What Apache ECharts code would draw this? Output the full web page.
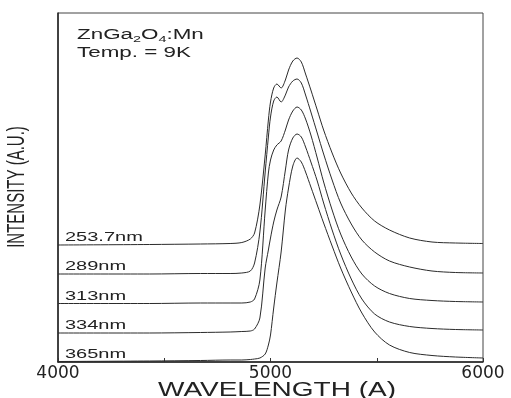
<!DOCTYPE html>
<html>
<head>
<meta charset="utf-8">
<script src="https://cdn.jsdelivr.net/npm/echarts@6/dist/echarts.min.js"></script>
<style>
    html, body { margin: 0; padding: 0; background: #fff; }
    #PlSpectra { width: 511px; height: 398px; }
</style>
</head>
<body>
<div id="PlSpectra"></div>
<script>
// wavelength samples (A)
var wavelength = [4000, 4430, 4670, 4810, 4865, 4905, 4925, 4950, 4975, 4990, 5000, 5015, 5030, 5050, 5070, 5085,
    5105, 5125, 5145, 5165, 5190, 5220, 5250, 5290, 5330, 5380, 5430, 5490, 5560, 5655, 5760, 5870, 6000];
// excitation wavelengths, one curve each (stacked, a.u.)
var excitation = ['253.7nm', '289nm', '313nm', '334nm', '365nm'];
var int2537 = [117, 117.5, 118, 118.5, 119.5, 123, 129, 157, 207, 242, 260, 274, 278, 274, 282, 292,
    301, 304, 300, 288, 272, 252, 232, 209, 189, 169, 154, 141, 132, 124, 120, 119, 118.5];
var int289 = [88, 88, 88.5, 88.5, 89, 91, 99, 130, 190, 225, 245, 261, 265, 260, 267, 275,
    281, 283, 279, 267, 250, 229, 208, 182, 159, 138, 122, 110, 101, 95, 91, 89.5, 89];
var int313 = [58.5, 58.5, 59, 59, 59, 60, 63, 82, 152, 189, 202, 212, 217, 221, 232, 242,
    251, 255, 252, 243, 227, 204, 180, 152, 128, 105, 88, 76, 68.5, 63.5, 61.5, 60.5, 60];
var int334 = [29, 29, 29.5, 30, 30.5, 31, 33, 44, 94, 112, 124, 140, 152, 165, 192, 212,
    224, 228, 225, 215, 200, 181, 159, 132, 108, 83, 63, 48, 40, 35.5, 33.5, 32.5, 32];
var int365 = [0.5, 1, 1.5, 2, 2, 2.5, 3, 4, 8, 17, 27, 54, 79, 110, 152, 174,
    196, 204, 200, 190, 175, 157, 139, 116, 94, 70, 49, 30, 17, 9.5, 6.5, 5, 4];
var xTickLabels = [4000, 5000, 6000];

var allCurves = [int2537, int289, int313, int334, int365];
var textFont = 'Liberation Sans, Arial, sans-serif';
var ink = '#222';

var chart = echarts.init(document.getElementById('PlSpectra'));

var series = allCurves.map(function (vals, k) {
    return {
        name: excitation[k],
        type: 'line',
        showSymbol: false,
        smooth: 0.3,
        silent: true,
        lineStyle: { color: '#2b2b2b', width: 1 },
        data: wavelength.map(function (w, i) { return [w, vals[i]]; })
    };
});

chart.setOption({
    animation: false,
    backgroundColor: '#fff',
    grid: { left: 58, right: 28, top: 13, bottom: 36, show: true, borderColor: '#444', borderWidth: 1 },
    xAxis: {
        type: 'value',
        min: 4000,
        max: 6000,
        interval: 500,
        axisLine: { lineStyle: { color: ink, width: 1.5 } },
        axisTick: { inside: true, length: 4, lineStyle: { color: '#333' } },
        splitLine: { show: false },
        axisLabel: {
            margin: 3,
            color: ink,
            fontFamily: 'DejaVu Sans',
            fontSize: 17,
            formatter: function (v) { return xTickLabels.indexOf(v) >= 0 ? String(v) : ''; }
        }
    },
    yAxis: {
        type: 'value',
        min: 0,
        max: 349,
        axisLine: { show: true, lineStyle: { color: ink, width: 1.5 } },
        axisTick: { show: false },
        axisLabel: { show: false },
        splitLine: { show: false }
    },
    series: series
});

// texts are drawn wide, like the scanned figure
var graphics = [
    {
        type: 'text', x: 277, y: 390, scaleX: 1.4, silent: true,
        style: { text: 'WAVELENGTH (A)', font: '20px ' + textFont, fill: ink, align: 'center', verticalAlign: 'middle' }
    },
    {
        type: 'text', x: 17, y: 187, rotation: Math.PI / 2, scaleY: 1.6, silent: true,
        style: { text: 'INTENSITY (A.U.)', font: '15px ' + textFont, fill: ink, align: 'center', verticalAlign: 'middle' }
    },
    {
        type: 'text', x: 77, y: 35, scaleX: 1.6, silent: true,
        style: {
            text: '{m|ZnGa}{s|2}{m|O}{s|4}{m|:Mn}',
            align: 'left', verticalAlign: 'middle', fill: ink,
            rich: {
                m: { fontSize: 14, fontFamily: textFont, lineHeight: 18, color: ink },
                s: { fontSize: 9, fontFamily: textFont, lineHeight: 6, verticalAlign: 'bottom', color: ink }
            }
        }
    },
    {
        type: 'text', x: 77, y: 53, scaleX: 1.6, silent: true,
        style: { text: 'Temp. = 9K', font: '14px ' + textFont, fill: ink, align: 'left', verticalAlign: 'middle' }
    }
];

allCurves.forEach(function (vals, k) {
    var p = chart.convertToPixel({ gridIndex: 0 }, [wavelength[0], vals[0]]);
    graphics.push({
        type: 'text', x: 65, y: p[1] - 7, scaleX: 1.6, silent: true,
        style: { text: excitation[k], font: '12.5px ' + textFont, fill: ink, align: 'left', verticalAlign: 'middle' }
    });
});

chart.setOption({ graphic: graphics });
</script>
</body>
</html>
